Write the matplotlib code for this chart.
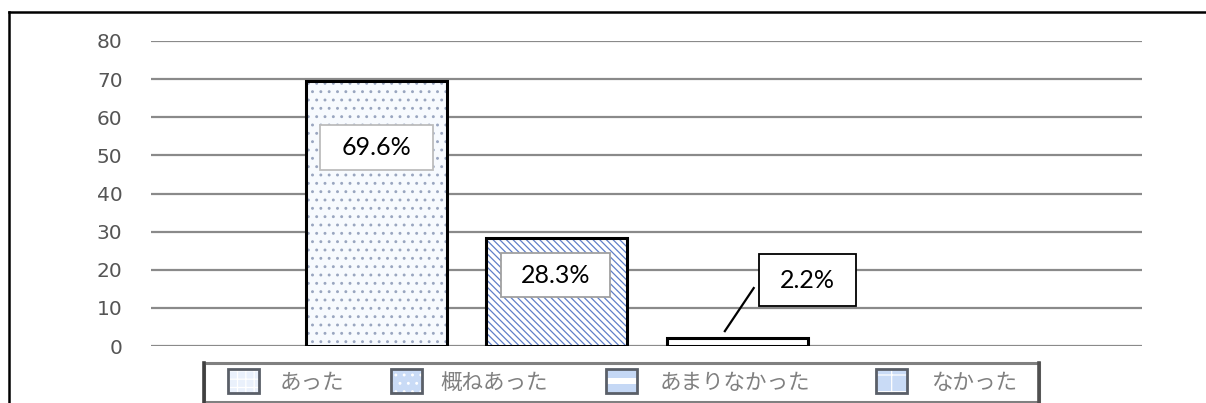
import matplotlib
matplotlib.use("Agg")
import matplotlib.pyplot as plt
from matplotlib.patches import Rectangle
from matplotlib.lines import Line2D

# ---- data ----
categories = ["あった", "概ねあった", "あまりなかった", "なかった"]
values = [69.6, 28.3, 2.2, 0.0]
value_labels = ["69.6%", "28.3%", "2.2%"]
yticks = [0, 10, 20, 30, 40, 50, 60, 70, 80]

W, H = 1206, 403
fig = plt.figure(figsize=(W / 100, H / 100), dpi=100)
fig.patch.set_facecolor("white")

def fx(x):
    return x / W

def fy(y):
    return 1 - y / H

# axes placement (pixel based)
ax_l, ax_r, ax_t, ax_b = 151, 1142, 41, 346
ax = fig.add_axes([fx(ax_l), fy(ax_b), fx(ax_r - ax_l), (ax_b - ax_t) / H])
ax.set_xlim(-1.249, 4.241)
ax.set_ylim(0, 80)
for s in ax.spines.values():
    s.set_visible(False)
ax.set_xticks([])
ax.set_yticks(yticks)
ax.tick_params(axis="y", length=0, pad=20.5, labelsize=14.5, labelcolor="#555555")
for lab in ax.get_yticklabels():
    lab.set_fontfamily("DejaVu Sans")
ax.yaxis.grid(True, color="#8a8a8a", linewidth=1.6)
ax.set_axisbelow(True)

xpos = list(range(len(categories)))
bw = 0.781

fills = ["#f7fafe", "white", "white", "white"]
hatches = ["..", "\\" * 5, None, None]
hatch_cols = ["#9aa6c0", "#5f7fc8", "white", "white"]

for i, (x, v) in enumerate(zip(xpos, values)):
    if v <= 0:
        continue
    if hatches[i]:
        plt.rcParams["hatch.linewidth"] = 0.9
        ax.bar(x, v, width=bw, color=fills[i], edgecolor=hatch_cols[i],
               hatch=hatches[i], linewidth=0, zorder=2)
    else:
        ax.bar(x, v, width=bw, color=fills[i], linewidth=0, zorder=2)
    ax.bar(x, v, width=bw, fill=False, edgecolor="black", linewidth=2.2, zorder=3)

# value label boxes (center offsets / sizes in px)
px_per_x = (ax_r - ax_l) / (4.241 + 1.249)
px_per_y = (ax_b - ax_t) / 80.0
box_specs = [  # (center x in data, center y in data, w px, h px, edgecolor)
    (0.003, 52.1, 113, 45, "#bdbdbd"),
    (0.99, 18.6, 109, 44, "#a0a0a0"),
    (2.388, 17.3, 97, 52, "black"),
]
for (cx, cy, wpx, hpx, ec), lab in zip(box_specs, value_labels):
    w = wpx / px_per_x
    h = hpx / px_per_y
    ax.add_patch(Rectangle((cx - w / 2, cy - h / 2), w, h, facecolor="white",
                           edgecolor=ec, linewidth=1.3, zorder=4))
    ax.text(cx, cy, lab, ha="center", va="center", fontsize=18,
            family="Lato", color="black", zorder=5)

# leader line for small bar
ax.add_line(Line2D([1.93, 2.09], [3.9, 15.2], color="black", linewidth=1.6, zorder=5))

# outer frame (left and top)
fig.add_artist(Line2D([fx(8.5), fx(8.5)], [fy(12), fy(403)], color="black",
                      linewidth=1.8, transform=fig.transFigure))
fig.add_artist(Line2D([fx(8.5), fx(1206)], [fy(12), fy(12)], color="black",
                      linewidth=1.8, transform=fig.transFigure))

# legend box
lg_l, lg_r, lg_t, lg_b = 204, 1039, 363, 401.5
fig.add_artist(Rectangle((fx(lg_l), fy(lg_b)), fx(lg_r - lg_l), (lg_b - lg_t) / H,
                         facecolor="white", edgecolor="#808080", linewidth=2.2,
                         transform=fig.transFigure))
fig.add_artist(Line2D([fx(lg_l), fx(lg_l)], [fy(lg_t), fy(lg_b)], color="#404040",
                      linewidth=2.6, transform=fig.transFigure))
fig.add_artist(Line2D([fx(lg_r), fx(lg_r)], [fy(lg_t), fy(lg_b)], color="#505050",
                      linewidth=2.6, transform=fig.transFigure))

patch_x = [228, 391, 606, 876]
text_x = [280, 440, 660, 932]
patch_face = ["#eaf1fc", "#c9dbf6", "#c5d8f5", "#c9dbf6"]
patch_hatch = ["++", "..", None, "+"]
for i, name in enumerate(categories):
    x0 = patch_x[i]
    fig.add_artist(Rectangle((fx(x0), fy(393)), fx(31), 24 / H,
                             facecolor=patch_face[i], edgecolor="white",
                             hatch=patch_hatch[i], linewidth=0,
                             transform=fig.transFigure))
    if i == 2:
        fig.add_artist(Rectangle((fx(x0), fy(384)), fx(31), 6 / H,
                                 facecolor="white", linewidth=0,
                                 transform=fig.transFigure))
    fig.add_artist(Rectangle((fx(x0), fy(393)), fx(31), 24 / H,
                             fill=False, edgecolor="#5a5f68", linewidth=2.0,
                             transform=fig.transFigure))
    fig.text(fx(text_x[i]), fy(383), name, ha="left", va="center",
             fontsize=15.5, color="#808080",
             family=["Noto Sans CJK JP", "DejaVu Sans"])

fig.savefig("out.png", dpi=100, facecolor="white")
